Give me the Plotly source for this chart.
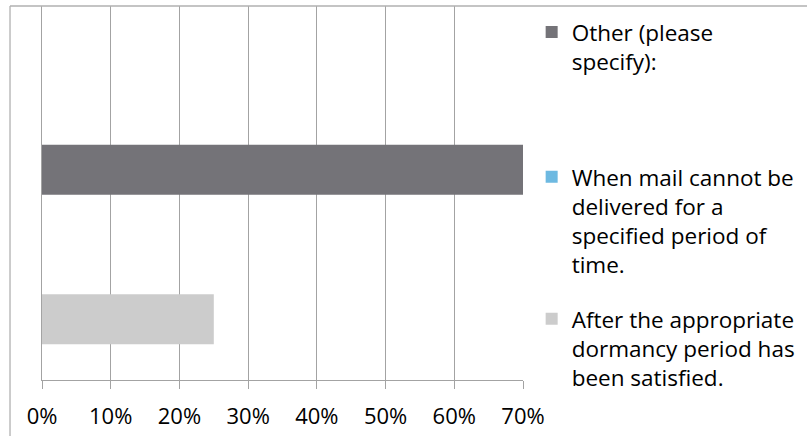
import plotly.graph_objects as go

# Survey responses: share of respondents choosing each option
series_names = [
    "After the appropriate<br>dormancy period has<br>been satisfied.",
    "When mail cannot be<br>delivered for a<br>specified period of<br>time.",
    "Other (please<br>specify):",
]
series_values = [0.25, 0.0, 0.70]
series_colors = ["#cccccc", "#6db9e1", "#747378"]
legend_ids = ["legend3", "legend2", "legend"]
category = ["Responses"]

x_ticks = [0, 0.1, 0.2, 0.3, 0.4, 0.5, 0.6, 0.7]

FONT = "Open Sans"
GRID = "#a3a3a3"

fig = go.Figure()
for name, val, col, lg in zip(series_names, series_values, series_colors, legend_ids):
    fig.add_trace(go.Bar(
        y=category, x=[val], name=name, orientation="h",
        marker=dict(color=col, line=dict(width=0)),
        legend=lg, showlegend=True, hoverinfo="x+name",
    ))

legend_common = dict(
    font=dict(family=FONT, size=22.5, color="#000000"),
    bgcolor="rgba(0,0,0,0)", borderwidth=0,
    xanchor="left", yanchor="top", valign="top",
    itemclick=False, itemdoubleclick=False, visible=True,
)

fig.update_layout(
    width=807, height=436,
    margin=dict(l=42, r=284, t=6, b=50),
    paper_bgcolor="white", plot_bgcolor="white",
    showlegend=True,
    barmode="group", bargap=0.0, bargroupgap=0.33,
    font=dict(family=FONT, size=22, color="#000000"),
    xaxis=dict(
        range=[0, 0.7], tickvals=x_ticks, tickformat=".0%",
        showgrid=True, gridcolor=GRID, gridwidth=1.3,
        showline=True, linecolor=GRID, linewidth=1.3,
        ticks="outside", ticklen=8, tickcolor=GRID, tickwidth=1.3,
        ticklabelstandoff=8,
        zeroline=False, fixedrange=True,
        tickfont=dict(family=FONT, size=22, color="#000000"),
    ),
    yaxis=dict(
        type="category", range=[-0.604, 1.064],
        showticklabels=False, showgrid=False, zeroline=False,
        showline=True, linecolor=GRID, linewidth=1.3,
        ticks="", fixedrange=True,
    ),
    legend=dict(x=1.018, y=0.987, **legend_common),
    legend2=dict(x=1.018, y=0.600, **legend_common),
    legend3=dict(x=1.018, y=0.220, **legend_common),
    shapes=[
        # chart frame (top and left edges)
        dict(type="line", xref="paper", yref="paper", x0=-0.0665, x1=1.7, y0=1.0, y1=1.0,
             line=dict(color="#b0b0b0", width=1.3)),
        dict(type="line", xref="paper", yref="paper", x0=-0.0665, x1=-0.0665, y0=1.0, y1=-0.2,
             line=dict(color="#b0b0b0", width=1.3)),
    ],
)

fig.write_html("out.html")
